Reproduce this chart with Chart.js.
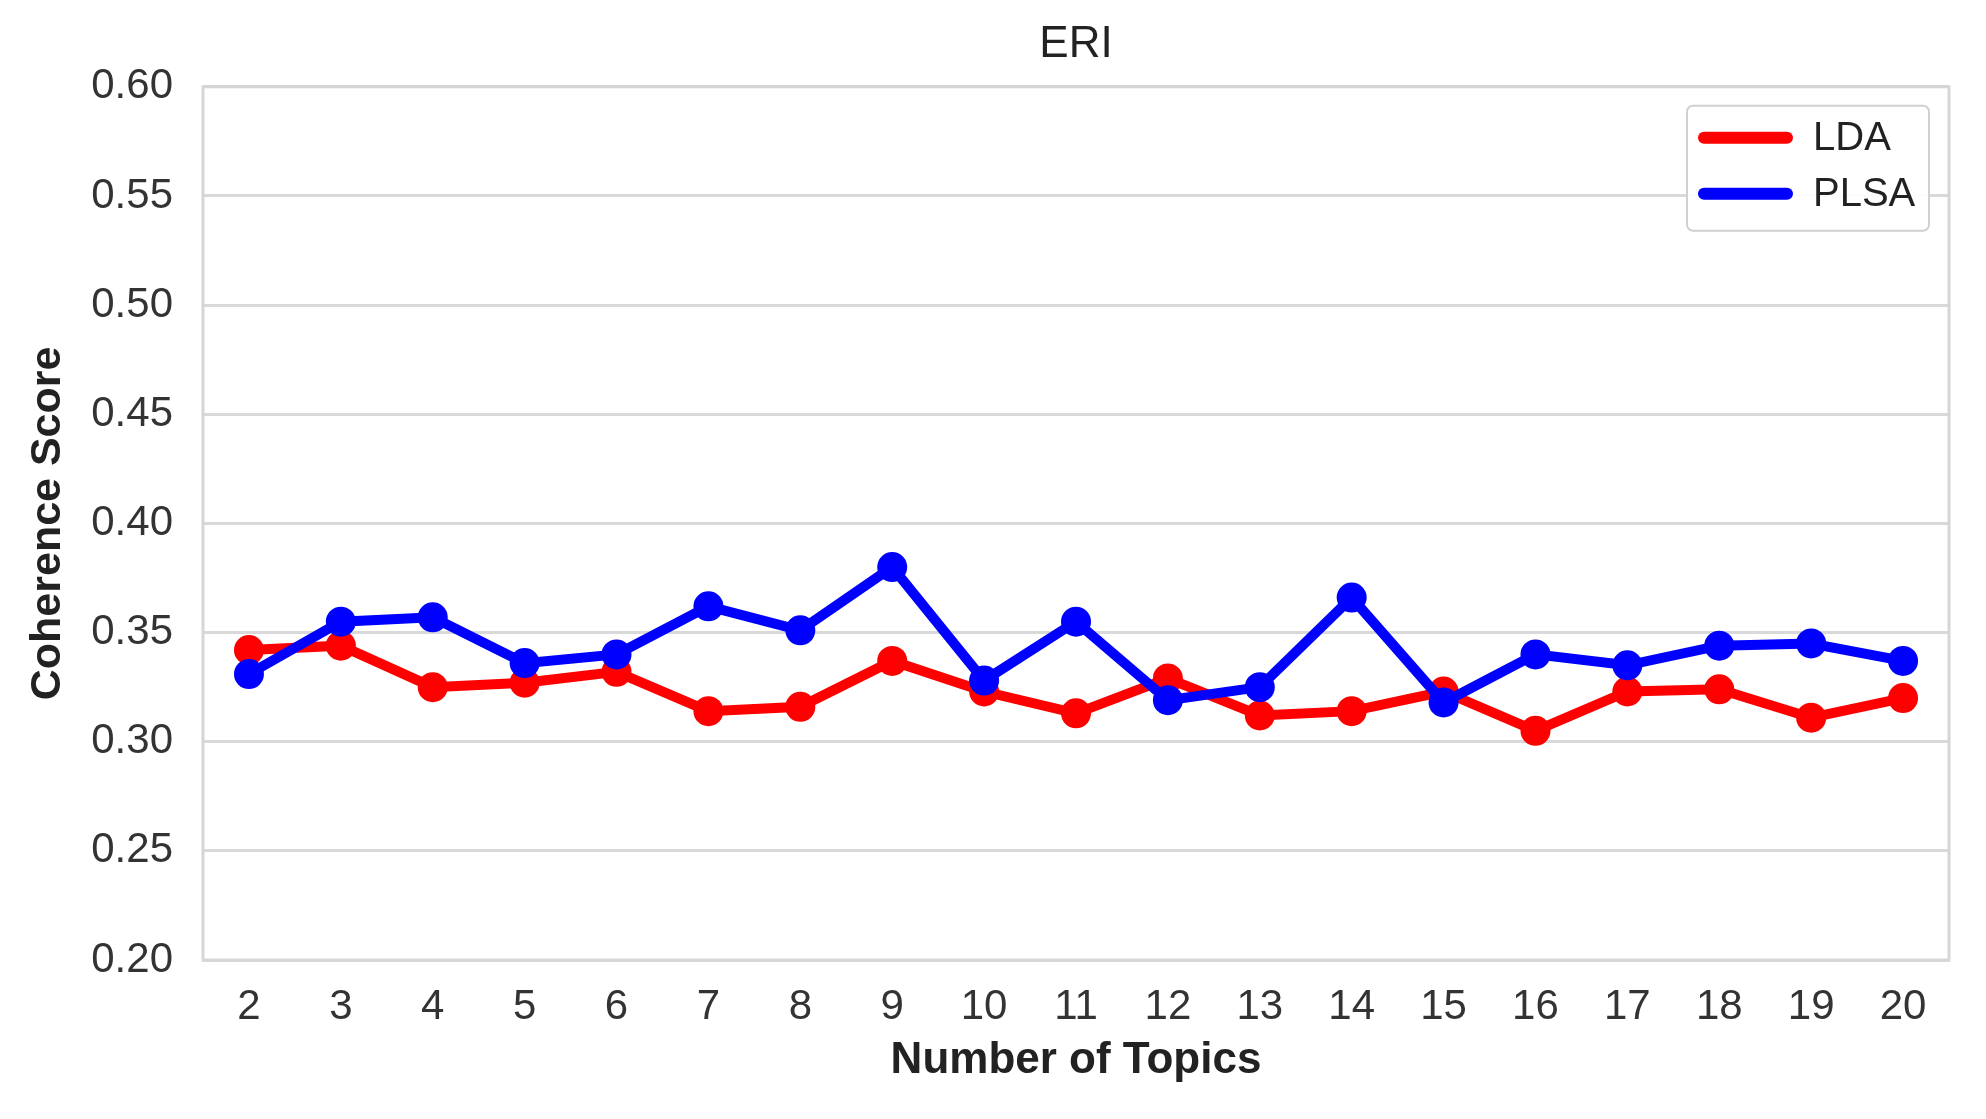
<!DOCTYPE html>
<html lang="en">
<head>
    <meta charset="UTF-8">
    <title>ERI</title>
    <script src="https://cdn.jsdelivr.net/npm/chart.js"></script>
    <style>
        html, body { margin: 0; padding: 0; background: #fff; }
        #wrap { width: 1986px; height: 1119px; }
    </style>
</head>
<body>
    <div id="wrap"><canvas id="eriChart" width="1986" height="1119"></canvas></div>

    <script>
        // dane
        const topics = ['2', '3', '4', '5', '6', '7', '8', '9', '10', '11', '12', '13', '14', '15', '16', '17', '18', '19', '20'];
        const ldaScores = [0.342, 0.344, 0.325, 0.327, 0.332, 0.314, 0.316, 0.337, 0.323, 0.313, 0.329, 0.312, 0.314, 0.323, 0.305, 0.323, 0.324, 0.311, 0.320];
        const plsaScores = [0.331, 0.355, 0.357, 0.336, 0.340, 0.362, 0.351, 0.380, 0.328, 0.355, 0.319, 0.325, 0.366, 0.318, 0.340, 0.335, 0.344, 0.345, 0.337];
        const yTicks = [0.20, 0.25, 0.30, 0.35, 0.40, 0.45, 0.50, 0.55, 0.60];

        const FONT = "'Liberation Sans', Arial, sans-serif";

        // ramka obszaru wykresu (jak w seaborn whitegrid)
        const frame = {
            id: 'frame',
            beforeDatasetsDraw(chart) {
                const a = chart.chartArea, ctx = chart.ctx;
                ctx.save();
                ctx.strokeStyle = '#d6d6d6';
                ctx.lineWidth = 3;
                ctx.strokeRect(a.left, a.top, a.right - a.left, a.bottom - a.top);
                ctx.restore();
            }
        };

        // legenda wewnątrz obszaru wykresu
        const innerLegend = {
            id: 'innerLegend',
            afterDraw(chart) {
                const a = chart.chartArea, ctx = chart.ctx;
                const w = 242, h = 125;
                const x = a.right - 20 - w, y = a.top + 19;
                ctx.save();
                ctx.fillStyle = 'rgba(255,255,255,0.9)';
                ctx.strokeStyle = '#d0d0d0';
                ctx.lineWidth = 2;
                ctx.beginPath();
                ctx.roundRect(x, y, w, h, 6);
                ctx.fill();
                ctx.stroke();
                ctx.font = '40px ' + FONT;
                ctx.textBaseline = 'middle';
                ctx.lineCap = 'round';
                chart.data.datasets.forEach((ds, i) => {
                    const cy = y + 32 + i * 56;
                    ctx.strokeStyle = ds.borderColor;
                    ctx.lineWidth = 12;
                    ctx.beginPath();
                    ctx.moveTo(x + 17, cy);
                    ctx.lineTo(x + 100, cy);
                    ctx.stroke();
                    ctx.fillStyle = '#222';
                    ctx.fillText(ds.label, x + 126, cy + 1);
                });
                ctx.restore();
            }
        };

        const ctx = document.getElementById('eriChart').getContext('2d');
        const chart = new Chart(ctx, {
            type: 'line',
            data: {
                labels: topics,
                datasets: [{
                    label: 'LDA',
                    data: ldaScores,
                    borderColor: '#ff0000',
                    backgroundColor: '#ff0000',
                    borderWidth: 10,
                    pointRadius: 15,
                    pointBorderWidth: 0,
                    tension: 0,
                    order: 1
                }, {
                    label: 'PLSA',
                    data: plsaScores,
                    borderColor: '#0000ff',
                    backgroundColor: '#0000ff',
                    borderWidth: 10,
                    pointRadius: 15,
                    pointBorderWidth: 0,
                    tension: 0,
                    order: 0
                }]
            },
            options: {
                responsive: false,
                animation: false,
                layout: { padding: { left: 18, right: 37, top: 0, bottom: 28 } },
                plugins: {
                    legend: { display: false },
                    tooltip: { enabled: false },
                    title: {
                        display: true,
                        fullSize: false,
                        text: 'ERI',
                        color: '#222',
                        font: { family: FONT, size: 44, weight: 'normal' },
                        padding: { top: 18, bottom: 16 }
                    }
                },
                scales: {
                    x: {
                        offset: true,
                        grid: { display: false, drawTicks: false },
                        border: { display: false },
                        ticks: {
                            color: '#333',
                            padding: 22,
                            font: { family: FONT, size: 42 },
                            maxRotation: 0,
                            autoSkip: false
                        },
                        title: {
                            display: true,
                            text: 'Number of Topics',
                            color: '#222',
                            font: { family: FONT, size: 44, weight: 'bold' }
                        },
                        afterFit(scale) { scale.height = 131; }
                    },
                    y: {
                        min: 0.2,
                        max: 0.6,
                        grid: { color: '#d9d9d9', lineWidth: 3, drawTicks: false },
                        border: { display: false },
                        afterBuildTicks(scale) {
                            scale.ticks = yTicks.map(v => ({ value: v }));
                        },
                        ticks: {
                            color: '#333',
                            padding: 30,
                            font: { family: FONT, size: 42 },
                            callback: v => Number(v).toFixed(2)
                        },
                        title: {
                            display: true,
                            text: 'Coherence Score',
                            color: '#222',
                            font: { family: FONT, size: 43, weight: 'bold' }
                        },
                        afterFit(scale) { scale.width = 185; }
                    }
                }
            },
            plugins: [frame, innerLegend]
        });
    </script>
</body>
</html>
